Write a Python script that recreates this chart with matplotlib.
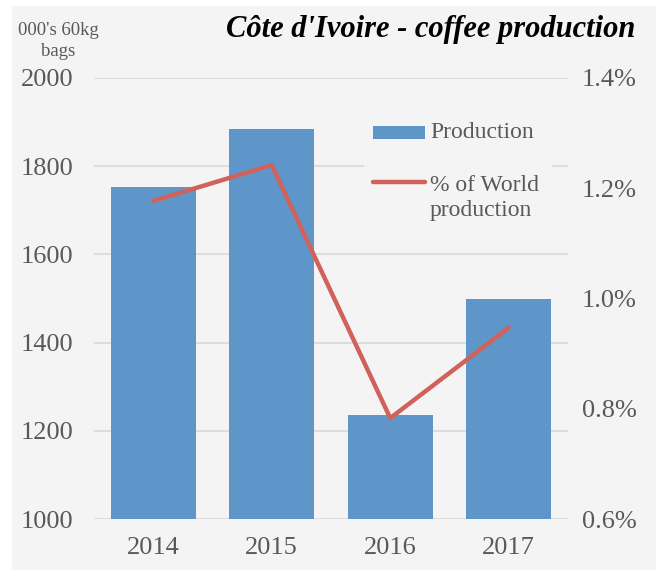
import matplotlib
matplotlib.use('Agg')
import matplotlib.pyplot as plt
from matplotlib.patches import Rectangle
from matplotlib.lines import Line2D
import numpy as np

# data
years = ['2014', '2015', '2016', '2017']
production = [1752, 1885, 1235, 1500]          # 000's 60kg bags
world_share = [1.177, 1.242, 0.783, 0.947]     # % of world production

left_ticks = [1000, 1200, 1400, 1600, 1800, 2000]
right_ticks = [0.6, 0.8, 1.0, 1.2, 1.4]

bar_color = '#5f96ca'
line_color = '#d0625b'
text_color = '#595959'
bg_color = '#f4f4f4'
serif = ['Liberation Serif', 'DejaVu Serif']

plt.rcParams['font.family'] = serif

W, H = 656, 575
def fx(px):
    return px / W
def fy(py):
    return 1 - py / H

fig = plt.figure(figsize=(6.56, 5.75), dpi=100)
fig.patch.set_facecolor('white')
fig.patches.append(Rectangle((fx(12), 5 / H), 644 / W, 564 / H,
                             transform=fig.transFigure, facecolor=bg_color,
                             edgecolor='none', zorder=-10))

ax = fig.add_axes([fx(94), 56 / H, 474 / W, 441 / H])
ax.set_facecolor('none')
x = np.arange(len(years))
ax.bar(x, [p - 1000 for p in production], bottom=1000, width=0.72,
       color=bar_color, zorder=2)
ax.set_xlim(-0.5, len(years) - 0.5)
ax.set_ylim(1000, 2000)
ax.set_yticks(left_ticks)
ax.set_yticklabels([str(t) for t in left_ticks])
ax.set_xticks(x)
ax.set_xticklabels(years)
ax.grid(axis='y', color='#d9d9d9', linewidth=1.2, zorder=0)
for s in ax.spines.values():
    s.set_visible(False)
ax.tick_params(axis='y', length=0, pad=15, labelsize=19, labelcolor=text_color)
ax.tick_params(axis='x', length=0, pad=13, labelsize=19, labelcolor=text_color)

ax2 = ax.twinx()
ax2.plot(x, world_share, color=line_color, linewidth=3.2, zorder=3,
         solid_capstyle='round')
ax2.set_ylim(0.6, 1.4)
ax2.set_yticks(right_ticks)
ax2.set_yticklabels(['%.1f%%' % t for t in right_ticks])
for s in ax2.spines.values():
    s.set_visible(False)
ax2.tick_params(axis='y', length=0, pad=10, labelsize=19, labelcolor=text_color)

# legend, laid out like the original (line key lines up with first text row)
fig.add_artist(Rectangle((fx(364), fy(224)), 188 / W, 104 / H,
                         transform=fig.transFigure, facecolor=bg_color,
                         edgecolor='none', zorder=5))
fig.add_artist(Rectangle((fx(373), fy(139)), 52 / W, 13 / H,
                         transform=fig.transFigure, facecolor=bar_color,
                         edgecolor='none', zorder=6))
fig.add_artist(Line2D([fx(373), fx(425)], [fy(182), fy(182)],
                      transform=fig.transFigure, color=line_color,
                      linewidth=3.2, solid_capstyle='round', zorder=6))
fig.text(fx(430), fy(133), 'Production', ha='left', va='center',
         fontsize=17, color=text_color, zorder=6)
fig.text(fx(430), fy(198), '% of World\nproduction', ha='left', va='center',
         fontsize=17, color=text_color, linespacing=1.2, zorder=6)

fig.text(fx(58), fy(41), "000's 60kg\nbags", ha='center', va='center',
         fontsize=13.5, color=text_color, linespacing=1.35)
fig.text(fx(635), fy(30), "Côte d'Ivoire - coffee production",
         ha='right', va='center', fontsize=22, fontweight='bold',
         fontstyle='italic', color='black')

fig.savefig('out.png', dpi=100, facecolor=fig.get_facecolor())
